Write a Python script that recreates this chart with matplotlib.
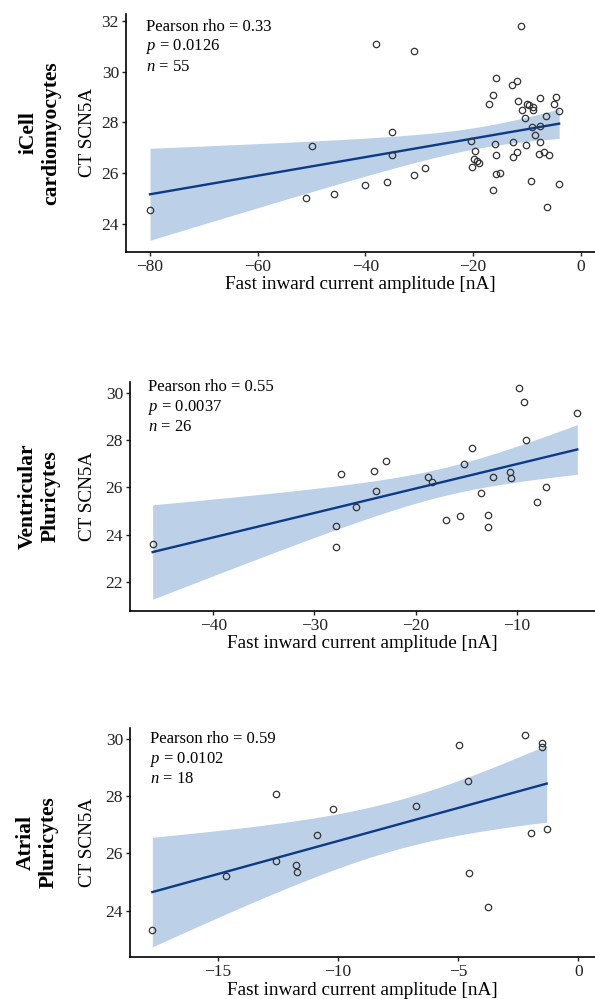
import numpy as np
import matplotlib
matplotlib.use("Agg")
import matplotlib.pyplot as plt

plt.rcParams['font.family'] = ['Liberation Serif', 'DejaVu Serif']
plt.rcParams['mathtext.fontset'] = 'custom'
plt.rcParams['mathtext.rm'] = 'Liberation Serif'
plt.rcParams['mathtext.it'] = 'Liberation Serif:italic'

# iCell cardiomyocytes
icell_x = [-80.0, -51.0, -50.0, -45.9, -40.0, -38.0, -36.0, -35.0, -35.0, -31.0,
           -31.0, -29.0, -20.4, -20.1, -19.6, -19.8, -19.3, -18.9, -17.0, -16.3,
           -16.3, -15.9, -15.8, -15.7, -15.7, -14.9, -12.8, -12.6, -12.6, -11.9,
           -11.8, -11.6, -11.0, -10.9, -10.4, -10.2, -10.0, -9.6, -9.3, -9.0,
           -8.8, -8.9, -8.5, -7.6, -7.55, -7.7, -7.6, -6.75, -6.5, -6.3,
           -5.8, -5.0, -4.6, -4.1, -4.0]
icell_y = [24.55, 25.02, 27.09, 25.20, 25.54, 31.10, 25.66, 27.61, 26.71, 30.81,
           25.95, 26.21, 27.27, 26.23, 26.88, 26.55, 26.49, 26.42, 28.73, 29.08,
           25.35, 27.17, 26.71, 29.75, 25.96, 26.02, 29.46, 27.22, 26.64, 26.83,
           29.62, 28.83, 31.80, 28.50, 28.19, 27.13, 28.71, 28.70, 25.68, 27.81,
           28.60, 28.48, 27.51, 27.22, 28.95, 26.75, 27.86, 26.84, 28.26, 24.69,
           26.72, 28.73, 28.98, 28.45, 25.58]

# Ventricular pluricytes
vent_x = [-46.0, -27.9, -27.9, -27.4, -25.9, -24.1, -23.9, -22.9, -18.8, -18.4,
          -17.0, -15.6, -15.2, -14.4, -13.5, -12.8, -12.8, -12.3, -10.7, -10.6,
          -9.8, -9.3, -9.1, -8.0, -7.1, -4.0]
vent_y = [23.60, 24.39, 23.49, 26.58, 25.19, 26.70, 25.84, 27.12, 26.44, 26.23,
          24.61, 24.81, 26.99, 27.68, 25.78, 24.85, 24.32, 26.44, 26.65, 26.41,
          30.20, 29.62, 28.02, 25.39, 26.01, 29.14]

# Atrial pluricytes
atrial_x = [-17.72, -14.65, -12.57, -12.56, -11.76, -11.70, -10.88, -10.19, -6.77,
            -4.96, -4.58, -4.55, -3.78, -2.22, -1.98, -1.53, -1.50, -1.32]
atrial_y = [23.33, 25.19, 28.06, 25.72, 25.60, 25.33, 26.64, 27.53, 27.64,
            29.78, 28.52, 25.31, 24.12, 30.12, 26.69, 29.86, 29.72, 26.86]

row_labels = ["iCell\ncardiomyocytes", "Ventricular\nPluricytes", "Atrial\nPluricytes"]
stats = [("0.33", "0.0126", "55"), ("0.55", "0.0037", "26"), ("0.59", "0.0102", "18")]
xticks = [[-80, -60, -40, -20, 0], [-40, -30, -20, -10], [-15, -10, -5, 0]]
yticks = [[24, 26, 28, 30, 32], [22, 24, 26, 28, 30], [24, 26, 28, 30]]

W, H = 595, 999
BAND = '#bcd0e8'
LINE = '#0b3a86'


def t975(df):
    # Cornish-Fisher approximation of the t quantile (no scipy here)
    z = 1.959964
    return (z + (z**3 + z) / (4 * df) + (5 * z**5 + 16 * z**3 + 3 * z) / (96 * df**2)
            + (3 * z**7 + 19 * z**5 + 17 * z**3 - 15 * z) / (384 * df**3))


def lm_band(x, y, xs):
    x = np.asarray(x)
    y = np.asarray(y)
    n = len(x)
    b, a = np.polyfit(x, y, 1)
    resid = y - (a + b * x)
    s = np.sqrt(np.sum(resid**2) / (n - 2))
    sxx = np.sum((x - x.mean())**2)
    se = s * np.sqrt(1.0 / n + (xs - x.mean())**2 / sxx)
    fit = a + b * xs
    t = t975(n - 2)
    return fit, fit - t * se, fit + t * se


def draw_panel(box, x, y, xlim, ylim, xt, yt, label, st, text_px, row_x):
    left, top, bottom = box
    rect = [left / W, 1 - bottom / H, (W - left) / W, (bottom - top) / H]
    ax = fig.add_axes(rect)

    xs = np.linspace(min(x), max(x), 200)
    fit, lo, hi = lm_band(x, y, xs)
    ax.fill_between(xs, lo, hi, color=BAND, lw=0, zorder=1)
    ax.plot(xs, fit, color=LINE, lw=1.7, zorder=2)
    ax.plot(x, y, 'o', mfc='none', mec='#333333', mew=0.9, ms=4.6, zorder=3)

    ax.set_xlim(*xlim)
    ax.set_ylim(*ylim)
    ax.set_xticks(xt)
    ax.set_yticks(yt)
    for s in ['top', 'right']:
        ax.spines[s].set_visible(False)
    for s in ['left', 'bottom']:
        ax.spines[s].set_linewidth(1.2)
    ax.tick_params(labelsize=12.5, length=3, width=1.0, pad=2, colors='#222222')

    wpx = W - left
    hpx = bottom - top
    ax.set_xlabel("Fast inward current amplitude [nA]", fontsize=13.8)
    ax.xaxis.set_label_coords(0.5, -33.0 / hpx)
    ax.xaxis.label.set_va('center')
    ax.set_ylabel("CT SCN5A", fontsize=13.8)
    ax.yaxis.set_label_coords((88 - left) / wpx, 0.5)
    ax.yaxis.label.set_va('center')

    # Pearson statistics, one line each
    tx, ty = text_px
    lines = ["Pearson rho = " + st[0], r"$p$ = " + st[1], r"$n$ = " + st[2]]
    for i, t in enumerate(lines):
        ax.text((tx - left) / wpx, 1 - (ty + 20 * i - top) / hpx, t,
                transform=ax.transAxes, fontsize=12, va='center', ha='left')

    fig.text(row_x / W, 1 - (top + bottom) / 2 / H, label, rotation=90,
             fontsize=15.5, fontweight='bold', ha='center', va='center',
             multialignment='center', linespacing=1.2)
    return ax


fig = plt.figure(figsize=(W / 100, H / 100), dpi=100)

draw_panel((126, 14, 251.7), icell_x, icell_y, (-84.46, 2.66), (22.92, 32.26),
           xticks[0], yticks[0], row_labels[0], stats[0], (146, 26.7), 40)
draw_panel((130, 381.7, 611), vent_x, vent_y, (-48.24, -2.25), (20.79, 30.46),
           xticks[1], yticks[1], row_labels[1], stats[1], (148, 387.3), 39)
draw_panel((130, 727.7, 957.3), atrial_x, atrial_y, (-18.65, 0.69), (22.37, 30.38),
           xticks[2], yticks[2], row_labels[2], stats[2], (150, 739.3), 37)

fig.savefig("out.png", dpi=100)
